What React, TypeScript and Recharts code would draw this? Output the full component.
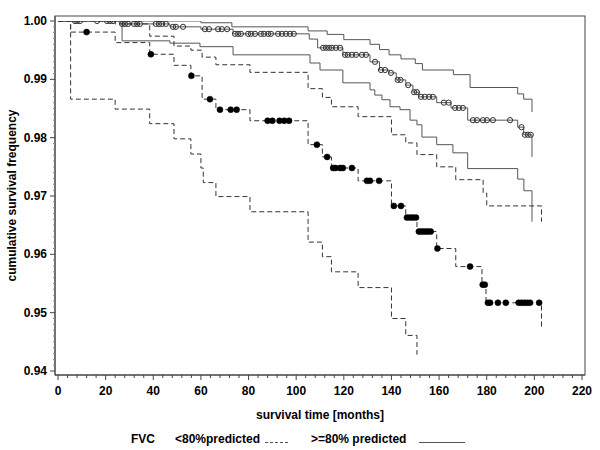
import React from 'react';
import { ComposedChart, Line, XAxis, YAxis } from 'recharts';

// FVC >= 80% predicted (solid): estimate and confidence bounds
const solidMainT = [0, 26, 47, 60, 73.5, 105.5, 109, 119.6, 131, 135, 139, 142, 146, 149, 151.5, 159, 165, 172, 193, 195.5, 199];
const solidMainV = [1.0, 0.9995, 0.999, 0.9986, 0.9978, 0.9969, 0.9954, 0.9942, 0.993, 0.9916, 0.9911, 0.9899, 0.989, 0.9878, 0.987, 0.986, 0.9851, 0.983, 0.9818, 0.9805, 0.9767];
const solidUpperT = [0, 60, 73, 105, 113, 120, 131, 135, 139, 144, 150, 153, 166, 173, 193, 195.5, 199];
const solidUpperV = [1.0, 0.9997, 0.999, 0.9983, 0.9977, 0.9968, 0.996, 0.9951, 0.9942, 0.9935, 0.9927, 0.9916, 0.9908, 0.9886, 0.9875, 0.9866, 0.9844];
const solidLowerT = [0, 26.9, 47, 59.6, 73.5, 105.8, 110, 119.6, 131, 133, 136, 139.4, 143.6, 147.8, 150.7, 152.8, 159, 165.8, 172, 193, 195.6, 199];
const solidLowerV = [1.0, 0.9966, 0.9962, 0.9956, 0.9942, 0.9928, 0.9916, 0.9894, 0.9882, 0.9873, 0.9865, 0.9853, 0.9848, 0.983, 0.9822, 0.9801, 0.9788, 0.9774, 0.9747, 0.9729, 0.9709, 0.9656];
const solidCensorT = [7.1, 8.0, 9.2, 16.4, 20.6, 21.8, 23.1, 26.9, 28.1, 29.4, 31.9, 33.2, 34.4, 41.1, 42.4, 43.7, 45.3, 48.3, 49.5, 52.5, 61.7, 63.4, 67.2, 68.8, 71, 74.3, 75.6, 76.8, 79.8, 81, 82.7, 85.2, 86.5, 88.2, 89.4, 92.4, 94, 95.7, 97.4, 99, 111.3, 112.5, 113.8, 115, 116.7, 118.4, 120.5, 121.7, 123.4, 125.1, 127.6, 129.3, 133.1, 135.6, 137.3, 139.8, 142.6, 143.8, 147, 149.5, 150.7, 152.4, 154, 155.8, 157.4, 162, 164, 166.7, 168.3, 170, 174.2, 175.9, 178.4, 180.1, 182.6, 189.8, 194.6, 196, 197.3, 198.5];

// FVC < 80% predicted (dashed): estimate and confidence bounds
const dashedMainT = [0, 5.3, 24, 38.5, 48.7, 55.8, 60.5, 66.3, 80.6, 105, 111, 114.8, 126, 140, 146, 150.7, 159, 167, 178, 179.7, 203];
const dashedMainV = [1.0, 0.9981, 0.9963, 0.9943, 0.9924, 0.9906, 0.9866, 0.9848, 0.9829, 0.9788, 0.9767, 0.9748, 0.9726, 0.9683, 0.9663, 0.9639, 0.961, 0.9579, 0.9548, 0.9517, 0.9476];
const dashedUpperT = [0, 24, 38.5, 48.7, 55.8, 60.5, 66.3, 80.6, 105, 111, 114.8, 126, 140, 146, 150.7, 159, 167, 178.5, 180, 203];
const dashedUpperV = [1.0, 0.9995, 0.9974, 0.9957, 0.995, 0.9938, 0.9925, 0.9912, 0.9884, 0.9869, 0.9853, 0.9836, 0.9805, 0.9791, 0.9771, 0.975, 0.9728, 0.9705, 0.9683, 0.9656];
const dashedLowerT = [0, 5.3, 24, 38.5, 48.7, 55.8, 60, 61, 66.3, 80.6, 105, 111, 114.8, 126, 140, 146, 150.7];
const dashedLowerV = [1.0, 0.9866, 0.9849, 0.9824, 0.9798, 0.9772, 0.9748, 0.9723, 0.9699, 0.9673, 0.9621, 0.9596, 0.957, 0.9543, 0.949, 0.9461, 0.9428];
const dashedCensorT = [12, 39, 56, 63.8, 68, 72.5, 75, 88, 90, 93, 95, 97, 108.7, 113, 115.5, 116.5, 118.4, 119.6, 123.4, 129.7, 131, 134.8, 141, 144, 146.5, 147.8, 149, 150.3, 151.5, 152.5, 153.5, 154.5, 155.5, 156.5, 159.3, 173, 178.3, 179.2, 180.5, 181.4, 184.7, 188, 193.4, 194.6, 195.8, 197, 198.2, 202];

const xMajorTicks = [0, 20, 40, 60, 80, 100, 120, 140, 160, 180, 200, 220];
const yMajorTicks = [0.94, 0.95, 0.96, 0.97, 0.98, 0.99, 1.0];

const FONT = '"Liberation Sans", Arial, sans-serif';
const MARGIN = { top: 16, right: 15, bottom: 0, left: 0 };

const toRows = (T: number[], V: number[]) => T.map((t, i) => ({ t, v: V[i] }));
const stepValue = (T: number[], V: number[], t: number) => {
  let v = V[0];
  for (let i = 0; i < T.length; i++) if (T[i] <= t) v = V[i];
  return v;
};

const solidMain = toRows(solidMainT, solidMainV);
const solidUpper = toRows(solidUpperT, solidUpperV);
const solidLower = toRows(solidLowerT, solidLowerV);
const dashedMain = toRows(dashedMainT, dashedMainV);
const dashedUpper = toRows(dashedUpperT, dashedUpperV);
const dashedLower = toRows(dashedLowerT, dashedLowerV);
const solidCensor = solidCensorT.map((t) => ({ t, v: stepValue(solidMainT, solidMainV, t) }));
const dashedCensor = dashedCensorT.map((t) => ({ t, v: stepValue(dashedMainT, dashedMainV, t) }));

// minor tick positions (axis decoration)
const xTicks: number[] = [];
for (let i = 0; i < xMajorTicks.length - 1; i++) {
  const a = xMajorTicks[i];
  const step = (xMajorTicks[i + 1] - a) / 5;
  for (let k = 0; k < 5; k++) xTicks.push(a + k * step);
}
xTicks.push(xMajorTicks[xMajorTicks.length - 1]);
const yTicks: number[] = [];
for (let i = 0; i < yMajorTicks.length - 1; i++) {
  for (let k = 0; k < 10; k++) yTicks.push(Math.round((yMajorTicks[i] + k * 0.001) * 1000) / 1000);
}
yTicks.push(yMajorTicks[yMajorTicks.length - 1]);

const isMajorX = (v: number) => xMajorTicks.some((m) => Math.abs(m - v) < 1e-6);
const isMajorY = (v: number) => yMajorTicks.some((m) => Math.abs(m - v) < 1e-6);

const XTick = (props: any) => {
  const { x, y, payload } = props;
  const major = isMajorX(payload.value);
  return (
    <g>
      <line x1={x} x2={x} y1={y} y2={y + (major ? 5 : 3)} stroke="#444" strokeWidth={1} />
      {major && (
        <text x={x} y={y + 20} textAnchor="middle" fontSize={12} fontWeight="bold" fontFamily={FONT} fill="#000">
          {payload.value}
        </text>
      )}
    </g>
  );
};

const YTick = (props: any) => {
  const { x, y, payload } = props;
  const major = isMajorY(payload.value);
  return (
    <g>
      <line x1={x - (major ? 5 : 2)} x2={x} y1={y} y2={y} stroke={major ? '#444' : '#888'} strokeWidth={1} />
      {major && (
        <text x={x - 8} y={y + 4} textAnchor="end" fontSize={12} fontWeight="bold" fontFamily={FONT} fill="#000">
          {payload.value.toFixed(2)}
        </text>
      )}
    </g>
  );
};

// x-axis title; also draws the plot frame from the axis box
const XLabel = (props: any) => {
  const vb = props.viewBox;
  return (
    <g>
      <rect x={vb.x} y={MARGIN.top} width={vb.width} height={vb.y - MARGIN.top} fill="none" stroke="#444" strokeWidth={1} />
      <text x={vb.x + vb.width / 2} y={vb.y + 44} textAnchor="middle" fontSize={12} fontWeight="bold" fontFamily={FONT} fill="#000">
        survival time [months]
      </text>
    </g>
  );
};

const YLabel = (props: any) => {
  const vb = props.viewBox;
  const cx = 16;
  const cy = vb.y + vb.height / 2;
  return (
    <text x={cx} y={cy} transform={`rotate(-90 ${cx} ${cy})`} textAnchor="middle" fontSize={12} fontWeight="bold" fontFamily={FONT} fill="#000">
      cumulative survival frequency
    </text>
  );
};

const SOLID = '#555';
const DASHED = '#333';
const DASH = '5 3';

export default function App() {
  return (
    <div style={{ position: 'absolute', left: 0, top: 0, width: 600, height: 450, background: '#fff' }}>
      <ComposedChart width={600} height={450} margin={MARGIN}>
        <XAxis
          xAxisId={0}
          dataKey="t"
          type="number"
          domain={[0, 220]}
          allowDataOverflow
          ticks={xTicks}
          interval={0}
          tickSize={0}
          tickMargin={0}
          tick={<XTick />}
          tickLine={false}
          axisLine={{ stroke: '#444' }}
          padding={{ left: 3, right: 3 }}
          height={75}
          label={<XLabel />}
        />
        <YAxis
          yAxisId={0}
          dataKey="v"
          type="number"
          domain={[0.94, 1.0]}
          allowDataOverflow
          ticks={yTicks}
          interval={0}
          tickSize={0}
          tickMargin={0}
          tick={<YTick />}
          tickLine={false}
          axisLine={{ stroke: '#444' }}
          padding={{ top: 5, bottom: 4 }}
          width={55}
          label={<YLabel />}
        />

        <Line data={solidUpper} dataKey="v" type="stepAfter" stroke={SOLID} strokeWidth={1} dot={false} activeDot={false} isAnimationActive={false} />
        <Line data={solidLower} dataKey="v" type="stepAfter" stroke={SOLID} strokeWidth={1} dot={false} activeDot={false} isAnimationActive={false} />
        <Line data={solidMain} dataKey="v" type="stepAfter" stroke={SOLID} strokeWidth={1} dot={false} activeDot={false} isAnimationActive={false} />
        <Line data={dashedUpper} dataKey="v" type="stepAfter" stroke={DASHED} strokeWidth={1} strokeDasharray={DASH} dot={false} activeDot={false} isAnimationActive={false} />
        <Line data={dashedLower} dataKey="v" type="stepAfter" stroke={DASHED} strokeWidth={1} strokeDasharray={DASH} dot={false} activeDot={false} isAnimationActive={false} />
        <Line data={dashedMain} dataKey="v" type="stepAfter" stroke={DASHED} strokeWidth={1} strokeDasharray={DASH} dot={false} activeDot={false} isAnimationActive={false} />

        <Line data={solidCensor} dataKey="v" stroke="none" dot={{ r: 2.6, fill: 'none', stroke: '#333', strokeWidth: 1 }} activeDot={false} isAnimationActive={false} />
        <Line data={dashedCensor} dataKey="v" stroke="none" dot={{ r: 3, fill: '#000', stroke: '#000', strokeWidth: 0.5 }} activeDot={false} isAnimationActive={false} />
      </ComposedChart>
      <div
        style={{
          position: 'absolute',
          left: 0,
          top: 430,
          width: 600,
          height: 18,
          fontFamily: FONT,
          fontSize: 12,
          fontWeight: 'bold',
          color: '#000',
          lineHeight: '18px',
        }}
      >
        <span style={{ position: 'absolute', left: 131, top: 0 }}>FVC</span>
        <span style={{ position: 'absolute', left: 175, top: 0 }}>&lt;80%predicted</span>
        <svg style={{ position: 'absolute', left: 265, top: 0 }} width={24} height={18}>
          <line x1={0} x2={24} y1={12.5} y2={12.5} stroke="#555" strokeWidth={1} strokeDasharray="3 2" />
        </svg>
        <span style={{ position: 'absolute', left: 311, top: 0 }}>&gt;=80% predicted</span>
        <svg style={{ position: 'absolute', left: 419, top: 0 }} width={46} height={18}>
          <line x1={0} x2={46} y1={12.5} y2={12.5} stroke="#555" strokeWidth={1} />
        </svg>
      </div>
    </div>
  );
}
